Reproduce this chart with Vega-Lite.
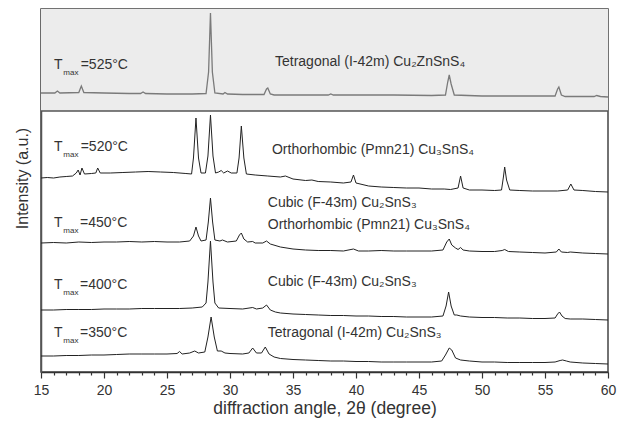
{
  "$schema": "https://vega.github.io/schema/vega-lite/v6.json",
  "width": 567,
  "height": 363,
  "autosize": {"type": "none"},
  "padding": {"left": 41, "top": 9, "right": 15, "bottom": 50},
  "background": "white",
  "config": {
    "view": {"stroke": "#444", "strokeWidth": 1.5},
    "font": "Liberation Sans",
    "axisX": {
      "tickCount": 45,
      "labelExpr": "datum.value % 5 === 0 ? datum.label : ''",
      "labelOverlap": false,
      "ticks": true,
      "tickSize": {"condition": {"test": "datum.value % 5 === 0", "value": 6}, "value": 3},
      "tickColor": "#333", "tickWidth": 1.2,
      "domainColor": "#333", "domainWidth": 1.5,
      "grid": false,
      "labelFont": "Liberation Sans", "labelFontSize": 14, "labelColor": "#333", "labelPadding": 5,
      "labelFlush": false,
      "titleFont": "Liberation Sans", "titleFontSize": 17.5, "titleFontWeight": "normal", "titleColor": "#333", "titlePadding": 2
    },
    "axisY": {
      "ticks": false, "labels": false, "grid": false,
      "domainColor": "#555", "domainWidth": 1.5,
      "titleFont": "Liberation Sans", "titleFontSize": 16, "titleFontWeight": "normal", "titleColor": "#333",
      "titlePadding": 11, "titleY": 169
    }
  },
  "datasets": {
    "xrd": [
      {"s": "525", "a": 15, "i": 279}, {"s": "525", "a": 16.1, "i": 279}, {"s": "525", "a": 16.3, "i": 281}, {"s": "525", "a": 16.5, "i": 279},
      {"s": "525", "a": 18.0, "i": 279.5}, {"s": "525", "a": 18.2, "i": 286}, {"s": "525", "a": 18.4, "i": 279.5},
      {"s": "525", "a": 20, "i": 279}, {"s": "525", "a": 22, "i": 278.5}, {"s": "525", "a": 22.9, "i": 278.5}, {"s": "525", "a": 23.1, "i": 280}, {"s": "525", "a": 23.3, "i": 278.5},
      {"s": "525", "a": 25, "i": 278}, {"s": "525", "a": 27, "i": 278}, {"s": "525", "a": 28.1, "i": 278.5}, {"s": "525", "a": 28.3, "i": 300}, {"s": "525", "a": 28.45, "i": 359}, {"s": "525", "a": 28.6, "i": 300}, {"s": "525", "a": 28.8, "i": 279},
      {"s": "525", "a": 29.45, "i": 278}, {"s": "525", "a": 29.6, "i": 279.5}, {"s": "525", "a": 29.8, "i": 278},
      {"s": "525", "a": 31, "i": 277.5}, {"s": "525", "a": 32.7, "i": 277.5}, {"s": "525", "a": 32.9, "i": 283}, {"s": "525", "a": 33.0, "i": 284}, {"s": "525", "a": 33.2, "i": 278}, {"s": "525", "a": 33.5, "i": 277},
      {"s": "525", "a": 35, "i": 277}, {"s": "525", "a": 37.8, "i": 277}, {"s": "525", "a": 38.0, "i": 278}, {"s": "525", "a": 38.2, "i": 277},
      {"s": "525", "a": 40, "i": 277}, {"s": "525", "a": 43, "i": 277}, {"s": "525", "a": 46, "i": 276.5}, {"s": "525", "a": 47.1, "i": 277}, {"s": "525", "a": 47.28, "i": 290}, {"s": "525", "a": 47.4, "i": 297}, {"s": "525", "a": 47.55, "i": 288}, {"s": "525", "a": 47.8, "i": 277},
      {"s": "525", "a": 50, "i": 276}, {"s": "525", "a": 53, "i": 276}, {"s": "525", "a": 55.8, "i": 276}, {"s": "525", "a": 56.0, "i": 283}, {"s": "525", "a": 56.1, "i": 285}, {"s": "525", "a": 56.3, "i": 277}, {"s": "525", "a": 56.6, "i": 275.5},
      {"s": "525", "a": 58, "i": 275.5}, {"s": "525", "a": 58.9, "i": 275.5}, {"s": "525", "a": 59.1, "i": 276.5}, {"s": "525", "a": 59.4, "i": 275.5}, {"s": "525", "a": 60, "i": 275},

      {"s": "520", "a": 15, "i": 194}, {"s": "520", "a": 15.5, "i": 194.5}, {"s": "520", "a": 16, "i": 194}, {"s": "520", "a": 16.5, "i": 195}, {"s": "520", "a": 17, "i": 195.5}, {"s": "520", "a": 17.5, "i": 196},
      {"s": "520", "a": 17.8, "i": 199}, {"s": "520", "a": 17.95, "i": 202}, {"s": "520", "a": 18.1, "i": 197}, {"s": "520", "a": 18.25, "i": 204}, {"s": "520", "a": 18.45, "i": 198}, {"s": "520", "a": 19, "i": 198.5},
      {"s": "520", "a": 19.35, "i": 199}, {"s": "520", "a": 19.5, "i": 204}, {"s": "520", "a": 19.7, "i": 199}, {"s": "520", "a": 20.5, "i": 199}, {"s": "520", "a": 21.5, "i": 199.5}, {"s": "520", "a": 22.5, "i": 200},
      {"s": "520", "a": 23.5, "i": 200.5}, {"s": "520", "a": 24.5, "i": 200}, {"s": "520", "a": 25.5, "i": 199.5}, {"s": "520", "a": 26.5, "i": 198.5}, {"s": "520", "a": 26.95, "i": 198},
      {"s": "520", "a": 27.1, "i": 214}, {"s": "520", "a": 27.3, "i": 254}, {"s": "520", "a": 27.5, "i": 214}, {"s": "520", "a": 27.7, "i": 199}, {"s": "520", "a": 28.05, "i": 199},
      {"s": "520", "a": 28.25, "i": 216}, {"s": "520", "a": 28.45, "i": 257}, {"s": "520", "a": 28.65, "i": 216}, {"s": "520", "a": 28.85, "i": 199}, {"s": "520", "a": 29.1, "i": 200}, {"s": "520", "a": 29.3, "i": 201.5},
      {"s": "520", "a": 29.5, "i": 199}, {"s": "520", "a": 29.8, "i": 201}, {"s": "520", "a": 30.1, "i": 199}, {"s": "520", "a": 30.55, "i": 199}, {"s": "520", "a": 30.72, "i": 214}, {"s": "520", "a": 30.9, "i": 246}, {"s": "520", "a": 31.1, "i": 214},
      {"s": "520", "a": 31.3, "i": 198}, {"s": "520", "a": 32, "i": 197}, {"s": "520", "a": 33, "i": 196}, {"s": "520", "a": 34, "i": 195}, {"s": "520", "a": 34.4, "i": 196}, {"s": "520", "a": 35, "i": 193},
      {"s": "520", "a": 36, "i": 191.5}, {"s": "520", "a": 36.5, "i": 192}, {"s": "520", "a": 37, "i": 190.5}, {"s": "520", "a": 38, "i": 190}, {"s": "520", "a": 39, "i": 189}, {"s": "520", "a": 39.6, "i": 190},
      {"s": "520", "a": 39.8, "i": 197}, {"s": "520", "a": 40.0, "i": 189}, {"s": "520", "a": 41, "i": 186}, {"s": "520", "a": 42, "i": 185}, {"s": "520", "a": 43, "i": 184.5}, {"s": "520", "a": 44, "i": 184},
      {"s": "520", "a": 45, "i": 184}, {"s": "520", "a": 46, "i": 183}, {"s": "520", "a": 47, "i": 183}, {"s": "520", "a": 47.5, "i": 182.5}, {"s": "520", "a": 48.1, "i": 184}, {"s": "520", "a": 48.3, "i": 196},
      {"s": "520", "a": 48.5, "i": 184}, {"s": "520", "a": 49, "i": 182}, {"s": "520", "a": 50, "i": 182}, {"s": "520", "a": 51, "i": 181.5}, {"s": "520", "a": 51.55, "i": 182}, {"s": "520", "a": 51.7, "i": 195},
      {"s": "520", "a": 51.8, "i": 205}, {"s": "520", "a": 51.95, "i": 192}, {"s": "520", "a": 52.2, "i": 182}, {"s": "520", "a": 53, "i": 181.5}, {"s": "520", "a": 54, "i": 181}, {"s": "520", "a": 55, "i": 181},
      {"s": "520", "a": 56, "i": 181}, {"s": "520", "a": 56.8, "i": 182}, {"s": "520", "a": 57.05, "i": 188}, {"s": "520", "a": 57.3, "i": 182}, {"s": "520", "a": 58, "i": 181.5}, {"s": "520", "a": 59, "i": 180.5}, {"s": "520", "a": 60, "i": 180},

      {"s": "450", "a": 15, "i": 129}, {"s": "450", "a": 16, "i": 129.5}, {"s": "450", "a": 17, "i": 129}, {"s": "450", "a": 18, "i": 130}, {"s": "450", "a": 19, "i": 129.5}, {"s": "450", "a": 20, "i": 130},
      {"s": "450", "a": 21, "i": 130}, {"s": "450", "a": 22, "i": 130.5}, {"s": "450", "a": 23, "i": 130}, {"s": "450", "a": 24, "i": 130.5}, {"s": "450", "a": 25, "i": 130}, {"s": "450", "a": 26, "i": 130},
      {"s": "450", "a": 26.8, "i": 131}, {"s": "450", "a": 27.1, "i": 136}, {"s": "450", "a": 27.3, "i": 145}, {"s": "450", "a": 27.5, "i": 136}, {"s": "450", "a": 27.7, "i": 131}, {"s": "450", "a": 28.1, "i": 132},
      {"s": "450", "a": 28.28, "i": 150}, {"s": "450", "a": 28.45, "i": 174}, {"s": "450", "a": 28.62, "i": 150}, {"s": "450", "a": 28.8, "i": 132}, {"s": "450", "a": 29.2, "i": 131}, {"s": "450", "a": 29.4, "i": 132},
      {"s": "450", "a": 29.8, "i": 130}, {"s": "450", "a": 30.5, "i": 131}, {"s": "450", "a": 30.75, "i": 137}, {"s": "450", "a": 30.9, "i": 139}, {"s": "450", "a": 31.1, "i": 133}, {"s": "450", "a": 31.4, "i": 130},
      {"s": "450", "a": 31.8, "i": 130.5}, {"s": "450", "a": 32, "i": 129}, {"s": "450", "a": 32.6, "i": 129}, {"s": "450", "a": 32.9, "i": 131}, {"s": "450", "a": 33.2, "i": 128}, {"s": "450", "a": 34, "i": 125},
      {"s": "450", "a": 35, "i": 123}, {"s": "450", "a": 36, "i": 122}, {"s": "450", "a": 37, "i": 121.5}, {"s": "450", "a": 38, "i": 121.5}, {"s": "450", "a": 39, "i": 121}, {"s": "450", "a": 39.8, "i": 123},
      {"s": "450", "a": 40.2, "i": 121}, {"s": "450", "a": 41, "i": 121}, {"s": "450", "a": 42, "i": 121.5}, {"s": "450", "a": 43, "i": 121}, {"s": "450", "a": 44, "i": 121}, {"s": "450", "a": 45, "i": 121},
      {"s": "450", "a": 46, "i": 121}, {"s": "450", "a": 46.9, "i": 122}, {"s": "450", "a": 47.2, "i": 130}, {"s": "450", "a": 47.4, "i": 133}, {"s": "450", "a": 47.6, "i": 127}, {"s": "450", "a": 47.9, "i": 124},
      {"s": "450", "a": 48.1, "i": 122.5}, {"s": "450", "a": 48.3, "i": 124.5}, {"s": "450", "a": 48.5, "i": 122}, {"s": "450", "a": 49, "i": 121}, {"s": "450", "a": 50, "i": 120.5}, {"s": "450", "a": 51, "i": 120.5},
      {"s": "450", "a": 51.6, "i": 121.5}, {"s": "450", "a": 51.8, "i": 122.5}, {"s": "450", "a": 52.1, "i": 120.5}, {"s": "450", "a": 53, "i": 120}, {"s": "450", "a": 54, "i": 119.5}, {"s": "450", "a": 55, "i": 119},
      {"s": "450", "a": 55.9, "i": 120}, {"s": "450", "a": 56.1, "i": 123}, {"s": "450", "a": 56.3, "i": 120}, {"s": "450", "a": 56.8, "i": 119.5}, {"s": "450", "a": 57, "i": 120}, {"s": "450", "a": 58, "i": 119},
      {"s": "450", "a": 59, "i": 118.5}, {"s": "450", "a": 60, "i": 118},

      {"s": "400", "a": 15, "i": 62}, {"s": "400", "a": 16, "i": 62}, {"s": "400", "a": 17, "i": 62.5}, {"s": "400", "a": 18, "i": 62.5}, {"s": "400", "a": 19, "i": 62.5}, {"s": "400", "a": 20, "i": 63},
      {"s": "400", "a": 21, "i": 63}, {"s": "400", "a": 22, "i": 63}, {"s": "400", "a": 23, "i": 63.5}, {"s": "400", "a": 24, "i": 63.5}, {"s": "400", "a": 25, "i": 63.5}, {"s": "400", "a": 26, "i": 63.5},
      {"s": "400", "a": 27, "i": 64}, {"s": "400", "a": 27.8, "i": 65}, {"s": "400", "a": 28.1, "i": 69}, {"s": "400", "a": 28.25, "i": 90}, {"s": "400", "a": 28.45, "i": 131}, {"s": "400", "a": 28.65, "i": 90},
      {"s": "400", "a": 28.8, "i": 69}, {"s": "400", "a": 29.1, "i": 64}, {"s": "400", "a": 30, "i": 63.5}, {"s": "400", "a": 31, "i": 63}, {"s": "400", "a": 31.8, "i": 64.5}, {"s": "400", "a": 32.1, "i": 63},
      {"s": "400", "a": 32.6, "i": 64}, {"s": "400", "a": 32.9, "i": 67}, {"s": "400", "a": 33.2, "i": 62}, {"s": "400", "a": 33.6, "i": 60}, {"s": "400", "a": 34, "i": 59}, {"s": "400", "a": 35, "i": 58},
      {"s": "400", "a": 36, "i": 57.5}, {"s": "400", "a": 37, "i": 57}, {"s": "400", "a": 38, "i": 56.5}, {"s": "400", "a": 39, "i": 56.5}, {"s": "400", "a": 40, "i": 56}, {"s": "400", "a": 41, "i": 56},
      {"s": "400", "a": 42, "i": 55.5}, {"s": "400", "a": 43, "i": 55.5}, {"s": "400", "a": 44, "i": 55}, {"s": "400", "a": 45, "i": 55}, {"s": "400", "a": 46, "i": 55}, {"s": "400", "a": 46.9, "i": 56},
      {"s": "400", "a": 47.15, "i": 66}, {"s": "400", "a": 47.35, "i": 80}, {"s": "400", "a": 47.55, "i": 66}, {"s": "400", "a": 47.8, "i": 57}, {"s": "400", "a": 48, "i": 57}, {"s": "400", "a": 48.3, "i": 56},
      {"s": "400", "a": 49, "i": 55}, {"s": "400", "a": 50, "i": 54.5}, {"s": "400", "a": 51, "i": 54.5}, {"s": "400", "a": 52, "i": 54}, {"s": "400", "a": 53, "i": 54}, {"s": "400", "a": 54, "i": 53.5},
      {"s": "400", "a": 55, "i": 53.5}, {"s": "400", "a": 55.8, "i": 54}, {"s": "400", "a": 56.0, "i": 58}, {"s": "400", "a": 56.15, "i": 60}, {"s": "400", "a": 56.35, "i": 56}, {"s": "400", "a": 56.6, "i": 53.5},
      {"s": "400", "a": 57, "i": 53}, {"s": "400", "a": 58, "i": 53}, {"s": "400", "a": 59, "i": 52.5}, {"s": "400", "a": 60, "i": 52},

      {"s": "350", "a": 15, "i": 16}, {"s": "350", "a": 16, "i": 16}, {"s": "350", "a": 17, "i": 16.5}, {"s": "350", "a": 18, "i": 16.5}, {"s": "350", "a": 19, "i": 17}, {"s": "350", "a": 20, "i": 17},
      {"s": "350", "a": 21, "i": 17.5}, {"s": "350", "a": 22, "i": 18}, {"s": "350", "a": 23, "i": 18}, {"s": "350", "a": 24, "i": 18}, {"s": "350", "a": 25, "i": 18}, {"s": "350", "a": 25.8, "i": 18.5},
      {"s": "350", "a": 26.0, "i": 20.5}, {"s": "350", "a": 26.2, "i": 18}, {"s": "350", "a": 26.8, "i": 19}, {"s": "350", "a": 27.2, "i": 21}, {"s": "350", "a": 27.5, "i": 19}, {"s": "350", "a": 28.0, "i": 20},
      {"s": "350", "a": 28.25, "i": 35}, {"s": "350", "a": 28.5, "i": 55}, {"s": "350", "a": 28.75, "i": 35}, {"s": "350", "a": 29.0, "i": 21}, {"s": "350", "a": 29.3, "i": 21}, {"s": "350", "a": 29.6, "i": 19},
      {"s": "350", "a": 30, "i": 18.5}, {"s": "350", "a": 31, "i": 18}, {"s": "350", "a": 31.5, "i": 19}, {"s": "350", "a": 31.8, "i": 24}, {"s": "350", "a": 32.1, "i": 19}, {"s": "350", "a": 32.5, "i": 19},
      {"s": "350", "a": 32.8, "i": 25}, {"s": "350", "a": 33.1, "i": 18}, {"s": "350", "a": 33.5, "i": 15}, {"s": "350", "a": 34, "i": 13.5}, {"s": "350", "a": 35, "i": 12.5}, {"s": "350", "a": 36, "i": 12},
      {"s": "350", "a": 37, "i": 11.5}, {"s": "350", "a": 38, "i": 11}, {"s": "350", "a": 39, "i": 11}, {"s": "350", "a": 40, "i": 10.5}, {"s": "350", "a": 41, "i": 10.5}, {"s": "350", "a": 42, "i": 10},
      {"s": "350", "a": 43, "i": 10}, {"s": "350", "a": 44, "i": 10}, {"s": "350", "a": 45, "i": 10}, {"s": "350", "a": 46, "i": 10}, {"s": "350", "a": 46.8, "i": 11}, {"s": "350", "a": 47.1, "i": 17},
      {"s": "350", "a": 47.4, "i": 24}, {"s": "350", "a": 47.6, "i": 22}, {"s": "350", "a": 47.9, "i": 14}, {"s": "350", "a": 48.3, "i": 12}, {"s": "350", "a": 49, "i": 11}, {"s": "350", "a": 50, "i": 10},
      {"s": "350", "a": 51, "i": 10}, {"s": "350", "a": 52, "i": 9.5}, {"s": "350", "a": 53, "i": 9.5}, {"s": "350", "a": 54, "i": 9.5}, {"s": "350", "a": 55, "i": 9.5}, {"s": "350", "a": 55.8, "i": 10},
      {"s": "350", "a": 56.2, "i": 11.5}, {"s": "350", "a": 56.4, "i": 12}, {"s": "350", "a": 56.7, "i": 11}, {"s": "350", "a": 57, "i": 10}, {"s": "350", "a": 58, "i": 9}, {"s": "350", "a": 59, "i": 8.5}, {"s": "350", "a": 60, "i": 8}
    ],
    "labels": [
      {"k": "main", "a": 16.03, "i": 307, "t": "T"},
      {"k": "sub", "a": 16.77, "i": 307, "t": "max"},
      {"k": "main", "a": 18.15, "i": 307, "t": "=525°C"},
      {"k": "main", "a": 33.57, "i": 310, "t": "Tetragonal (I-42m) Cu₂ZnSnS₄"},
      {"k": "main", "a": 16.03, "i": 225, "t": "T"},
      {"k": "sub", "a": 16.77, "i": 225, "t": "max"},
      {"k": "main", "a": 18.15, "i": 225, "t": "=520°C"},
      {"k": "main", "a": 33.33, "i": 222, "t": "Orthorhombic (Pmn21) Cu₃SnS₄"},
      {"k": "main", "a": 33.0, "i": 169, "t": "Cubic (F-43m) Cu₂SnS₃"},
      {"k": "main", "a": 33.0, "i": 147, "t": "Orthorhombic (Pmn21) Cu₃SnS₄"},
      {"k": "main", "a": 16.03, "i": 149, "t": "T"},
      {"k": "sub", "a": 16.77, "i": 149, "t": "max"},
      {"k": "main", "a": 18.1, "i": 149, "t": "=450°C"},
      {"k": "main", "a": 16.03, "i": 87, "t": "T"},
      {"k": "sub", "a": 16.77, "i": 87, "t": "max"},
      {"k": "main", "a": 18.1, "i": 87, "t": "=400°C"},
      {"k": "main", "a": 33.0, "i": 90, "t": "Cubic (F-43m) Cu₂SnS₃"},
      {"k": "main", "a": 16.03, "i": 39, "t": "T"},
      {"k": "sub", "a": 16.77, "i": 39, "t": "max"},
      {"k": "main", "a": 18.1, "i": 39, "t": "=350°C"},
      {"k": "main", "a": 33.0, "i": 39, "t": "Tetragonal (I-42m) Cu₂SnS₃"}
    ]
  },
  "layer": [
    {
      "data": {"values": [{}]},
      "mark": {"type": "rect", "color": "#ececec"},
      "encoding": {
        "x": {"datum": 15, "type": "quantitative", "title": "diffraction angle, 2θ (degree)",
          "scale": {"domain": [15, 60], "nice": false, "zero": false}},
        "x2": {"datum": 60},
        "y": {"datum": 261, "type": "quantitative", "title": "Intensity  (a.u.)",
          "scale": {"domain": [0, 363], "nice": false, "zero": false}},
        "y2": {"datum": 363}
      }
    },
    {
      "data": {"values": [{}]},
      "mark": {"type": "rule", "color": "#555", "strokeWidth": 1.5},
      "encoding": {
        "x": {"datum": 15, "type": "quantitative", "title": "diffraction angle, 2θ (degree)"},
        "x2": {"datum": 60},
        "y": {"datum": 261, "type": "quantitative", "title": "Intensity  (a.u.)"}
      }
    },
    {
      "data": {"name": "xrd"},
      "transform": [{"filter": "datum.s === '525'"}],
      "mark": {"type": "line", "color": "#7a7a7a", "strokeWidth": 1.3, "interpolate": "linear"},
      "encoding": {
        "x": {"field": "a", "type": "quantitative", "title": "diffraction angle, 2θ (degree)"},
        "y": {"field": "i", "type": "quantitative", "title": "Intensity  (a.u.)"}
      }
    },
    {
      "data": {"name": "xrd"},
      "transform": [{"filter": "datum.s !== '525'"}],
      "mark": {"type": "line", "color": "#222", "strokeWidth": 1, "interpolate": "linear"},
      "encoding": {
        "x": {"field": "a", "type": "quantitative", "title": "diffraction angle, 2θ (degree)"},
        "y": {"field": "i", "type": "quantitative", "title": "Intensity  (a.u.)"},
        "detail": {"field": "s"}
      }
    },
    {
      "data": {"name": "labels"},
      "transform": [{"filter": "datum.k === 'main'"}],
      "mark": {"type": "text", "align": "left", "baseline": "middle", "font": "Liberation Sans", "fontSize": 14, "color": "#333"},
      "encoding": {
        "x": {"field": "a", "type": "quantitative", "title": "diffraction angle, 2θ (degree)"},
        "y": {"field": "i", "type": "quantitative", "title": "Intensity  (a.u.)"},
        "text": {"field": "t"}
      }
    },
    {
      "data": {"name": "labels"},
      "transform": [{"filter": "datum.k === 'sub'"}],
      "mark": {"type": "text", "align": "left", "baseline": "middle", "font": "Liberation Sans", "fontSize": 8, "dy": 8, "color": "#333"},
      "encoding": {
        "x": {"field": "a", "type": "quantitative", "title": "diffraction angle, 2θ (degree)"},
        "y": {"field": "i", "type": "quantitative", "title": "Intensity  (a.u.)"},
        "text": {"field": "t"}
      }
    }
  ]
}
